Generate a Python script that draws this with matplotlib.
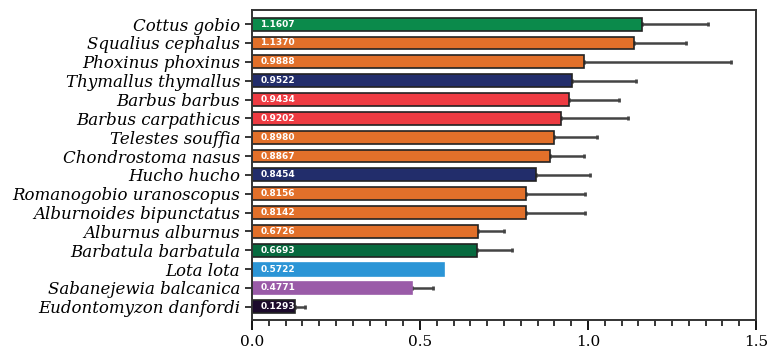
import matplotlib.pyplot as plt
from matplotlib.ticker import MultipleLocator

species = ["Cottus gobio", "Squalius cephalus", "Phoxinus phoxinus", "Thymallus thymallus",
           "Barbus barbus", "Barbus carpathicus", "Telestes souffia", "Chondrostoma nasus",
           "Hucho hucho", "Romanogobio uranoscopus", "Alburnoides bipunctatus",
           "Alburnus alburnus", "Barbatula barbatula", "Lota lota", "Sabanejewia balcanica",
           "Eudontomyzon danfordi"]
values = [1.1607, 1.1370, 0.9888, 0.9522, 0.9434, 0.9202, 0.8980, 0.8867,
          0.8454, 0.8156, 0.8142, 0.6726, 0.6693, 0.5722, 0.4771, 0.1293]
# upper end of each error bar
err_top = [1.356, 1.292, 1.426, 1.143, 1.091, 1.120, 1.028, 0.989,
           1.007, 0.991, 0.991, 0.751, 0.774, None, 0.538, 0.159]
colors = ["#0b8a4b", "#e2702a", "#e2702a", "#222d6b", "#ee3b42", "#ee3b42", "#e2702a", "#e2702a",
          "#222d6b", "#e2702a", "#e2702a", "#e2702a", "#076a3f", "#2b95d6", "#9a5ba8", "#1c0b2c"]
edges = ["#222222"] * 13 + ["#2b95d6", "#9a5ba8", "#222222"]

fig = plt.figure(figsize=(7.69, 3.52), dpi=100)
ax = fig.add_axes([0.3277, 0.0909, 0.6554, 0.8807])

y = list(range(len(species)))
ax.barh(y, values, height=0.68, color=colors, edgecolor=edges, linewidth=1.2, zorder=2)

for yi, v, e in zip(y, values, err_top):
    if e is None:
        continue
    ax.errorbar(v, yi, xerr=[[0], [e - v]], fmt="none", ecolor="#444444",
                elinewidth=1.8, capsize=1.5, capthick=2, zorder=1)

for yi, v in zip(y, values):
    ax.text(0.025, yi, f"{v:.4f}", color="white", fontsize=6.5, fontweight="semibold",
            va="center", ha="left", zorder=3)

ax.set_yticks(y)
ax.set_yticklabels(species, family="DejaVu Serif", style="italic", fontsize=12)
ax.set_ylim(15.7, -0.75)
ax.set_xlim(0, 1.5)
ax.xaxis.set_minor_locator(MultipleLocator(0.05))
ax.set_xticks([0, 0.5, 1.0, 1.5])
ax.set_xticklabels(["0.0", "0.5", "1.0", "1.5"], family="DejaVu Serif", fontsize=11)
ax.tick_params(axis="x", which="major", length=7, width=1.3)
ax.tick_params(axis="x", which="minor", length=4, width=1.1)
ax.tick_params(axis="y", length=5, width=1.1)
for s in ax.spines.values():
    s.set_linewidth(1.4)
    s.set_color("#333333")

fig.savefig("out.png", dpi=100)
